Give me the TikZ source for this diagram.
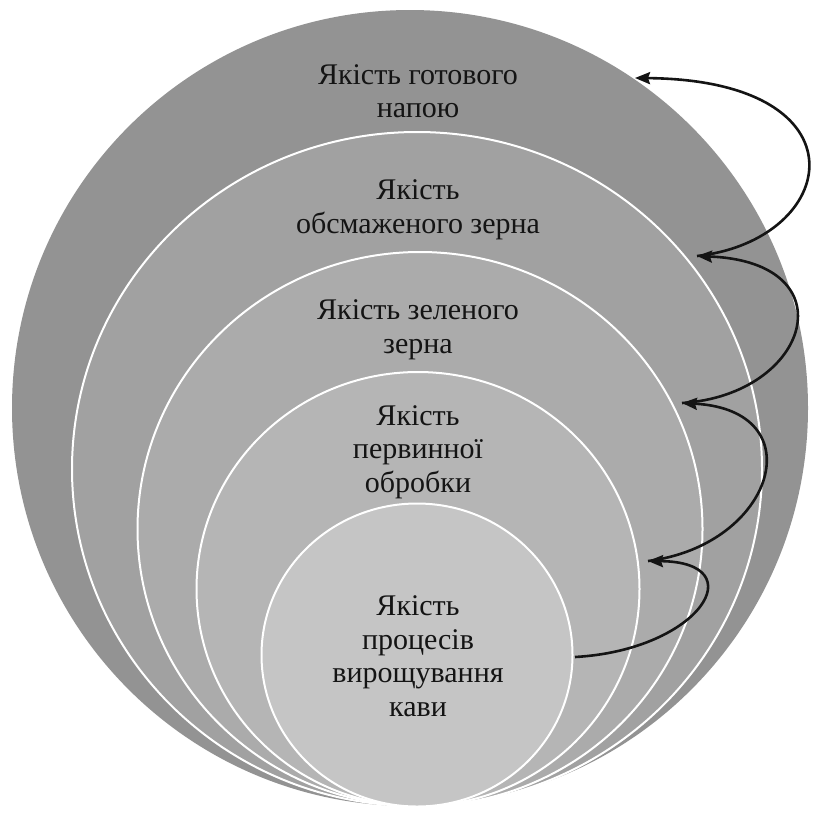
\documentclass[tikz,border=0pt]{standalone}
\usepackage{fontspec}
\setmainfont{Liberation Serif}
\usetikzlibrary{shapes.geometric,arrows.meta}
\definecolor{ringA}{HTML}{939393}
\definecolor{ringB}{HTML}{A1A1A1}
\definecolor{ringC}{HTML}{ABABAB}
\definecolor{ringD}{HTML}{B5B5B5}
\definecolor{ringE}{HTML}{C5C5C5}
\definecolor{txt}{HTML}{141414}
\tikzset{
  ring/.style={ellipse, inner sep=0pt, draw=white, line width=2pt},
  lbl/.style={align=center, text=txt, inner sep=0pt,
    font=\fontsize{30}{33.5}\selectfont},
  flow/.style={line width=2.6pt, black!92,
    -{Stealth[length=15pt,width=12pt,inset=2pt]}}
}
\begin{document}
\begin{tikzpicture}[x=1pt,y=-1pt]
\useasboundingbox (0,0) rectangle (813,812);
\fill[white] (0,0) rectangle (813,812);
% nested rings
\node[ring, draw=none, fill=ringA, minimum width=796pt, minimum height=796pt] (r1) at (410,408) {};
\node[ring, fill=ringB, minimum width=690pt, minimum height=674pt] (r2) at (417,469) {};
\node[ring, fill=ringC, minimum width=565pt, minimum height=554pt] (r3) at (420,529) {};
\node[ring, fill=ringD, minimum width=443pt, minimum height=434pt] (r4) at (418,589) {};
\node[ring, fill=ringE, minimum width=311pt, minimum height=303pt] (r5) at (417,655) {};
% labels
\node[lbl] (t1) at (418,91) {Якість готового\\напою};
\node[lbl] (t2) at (418,210) {Якість\\обсмаженого зерна};
\node[lbl] (t3) at (418,330) {Якість зеленого\\зерна};
\node[lbl] (t4) at (418,452) {Якість\\первинної\\обробки};
\node[lbl] (t5) at (418,656) {Якість\\процесів\\вирощування\\кави};
% connector points
\coordinate (s5) at (575,657);
\coordinate (a4) at (648,561);
\coordinate (a3) at (682,403);
\coordinate (a2) at (697,256);
\coordinate (a1) at (635,78);
\draw[flow] (s5) .. controls (700,650) and (755,562) .. (a4);
\draw[flow] (a4) .. controls (775,545) and (815,410) .. (a3);
\draw[flow] (a3) .. controls (810,395) and (850,262) .. (a2);
\draw[flow] (a2) .. controls (840,240) and (870,80) .. (a1);
\end{tikzpicture}
\end{document}
